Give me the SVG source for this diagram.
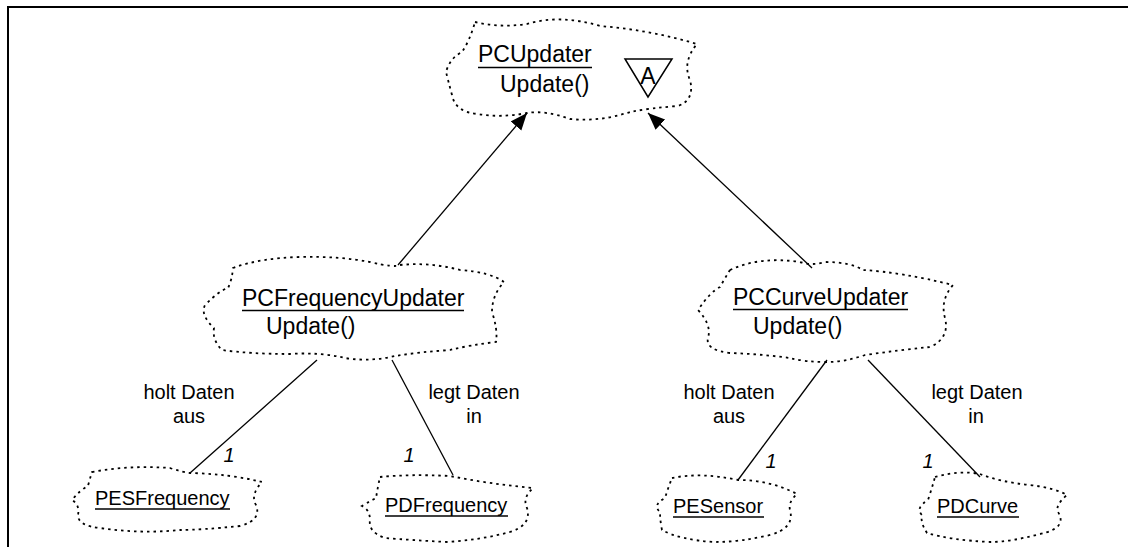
<svg xmlns="http://www.w3.org/2000/svg" width="1128" height="547" viewBox="0 0 1128 547">
<style>
.cloud{fill:none;stroke:#000;stroke-width:1.8;stroke-dasharray:2.5 4;}
.t{font-family:"Liberation Sans",Arial,sans-serif;fill:#000;}
.big{font-size:23px;}
.sm{font-size:20px;}
.ul{stroke:#000;stroke-width:1.6;}
.conn{stroke:#000;stroke-width:1.3;fill:none;}
.lbl{font-family:"Liberation Sans",Arial,sans-serif;font-size:20px;text-anchor:middle;fill:#000;}
.mult{font-family:"Liberation Sans",Arial,sans-serif;font-size:20px;font-style:italic;text-anchor:middle;fill:#000;}
</style>
<defs>
<marker id="arr" markerUnits="userSpaceOnUse" markerWidth="18" markerHeight="16" refX="17" refY="7" orient="auto">
<path d="M0,0 L17,7 L0,14 Z" fill="#000"/>
</marker>
</defs>
<rect width="1128" height="547" fill="#fff"/>
<path d="M8,547 V7 H1128" fill="none" stroke="#000" stroke-width="2"/>

<g id="connectors">
<line class="conn" x1="398" y1="265" x2="527" y2="113" marker-end="url(#arr)"/>
<line class="conn" x1="812" y1="268" x2="648" y2="113" marker-end="url(#arr)"/>
<line class="conn" x1="317" y1="360" x2="190" y2="473"/>
<line class="conn" x1="392" y1="360" x2="453" y2="475"/>
<line class="conn" x1="827" y1="360" x2="738" y2="480"/>
<line class="conn" x1="868" y1="360" x2="980" y2="477"/>
<text class="lbl" x="189" y="399">holt Daten</text>
<text class="lbl" x="189" y="423">aus</text>
<text class="lbl" x="474" y="399">legt Daten</text>
<text class="lbl" x="474" y="423">in</text>
<text class="lbl" x="729" y="399">holt Daten</text>
<text class="lbl" x="729" y="423">aus</text>
<text class="lbl" x="977" y="399">legt Daten</text>
<text class="lbl" x="976" y="423">in</text>
<text class="mult" x="229" y="462">1</text>
<text class="mult" x="409" y="462">1</text>
<text class="mult" x="771" y="468">1</text>
<text class="mult" x="928" y="468">1</text>
</g>

<g id="PCUpdater">
<path class="cloud" d="M475,22 Q500,28 527,24 Q560,14 600,26 Q650,30 697,44 Q682,62 690,80 Q695,100 678,106 Q650,108 630,112 Q600,122 570,119 Q545,110 527,113 Q500,118 478,114 Q455,112 452,95 Q448,80 446,72 Q450,58 462,52 Q470,40 475,22 Z"/>
<text class="t big" x="478" y="62">PCUpdater</text>
<line class="ul" x1="478" y1="67.5" x2="592" y2="67.5"/>
<text class="t big" x="500" y="92">Update()</text>
<path d="M625,59 L672,59 L648,97 Z" fill="none" stroke="#000" stroke-width="1.5"/>
<text class="t big" x="648" y="84" text-anchor="middle">A</text>
</g>

<g id="PCFrequencyUpdater">
<path class="cloud" d="M233,268 Q260,258 300,257 Q340,256 370,262 Q395,268 400,265 Q430,262 460,270 Q490,272 504,282 Q492,295 492,312 Q498,330 496,342 Q470,345 450,350 Q420,352 395,356 Q370,362 345,358 Q320,352 290,354 Q250,354 222,350 Q212,340 214,328 Q200,315 205,305 Q220,290 228,288 Q232,280 233,268 Z"/>
<text class="t big" x="242" y="306">PCFrequencyUpdater</text>
<line class="ul" x1="242" y1="310.5" x2="464" y2="310.5"/>
<text class="t big" x="266" y="334">Update()</text>
</g>

<g id="PCCurveUpdater">
<path class="cloud" d="M730,270 Q760,256 800,262 Q812,266 825,262 Q850,262 863,270 Q900,272 953,285 Q940,300 945,318 Q950,338 930,347 Q900,350 865,355 Q845,362 827,362 Q805,362 790,358 Q760,354 730,353 Q705,350 708,338 Q712,325 698,310 Q710,292 720,287 Q725,278 730,270 Z"/>
<text class="t big" x="733" y="305">PCCurveUpdater</text>
<line class="ul" x1="733" y1="309.5" x2="908" y2="309.5"/>
<text class="t big" x="753" y="334">Update()</text>
</g>

<g id="PESFrequency">
<path class="cloud" d="M92,472 Q130,465 170,468 Q182,472 190,473 Q230,474 262,482 Q250,495 256,505 Q262,520 240,526 Q200,530 180,530 Q140,534 100,528 Q78,526 78,515 Q80,505 72,500 Q80,490 88,486 Q90,478 92,472 Z"/>
<text class="t sm" x="95" y="505">PESFrequency</text>
<line class="ul" x1="95" y1="509" x2="230" y2="509"/>
</g>

<g id="PDFrequency">
<path class="cloud" d="M380,477 Q410,474 450,476 Q490,484 533,488 Q522,498 527,508 Q532,525 510,532 Q480,540 447,542 Q410,540 385,538 Q368,532 370,520 Q370,510 362,506 Q372,500 376,498 Q378,486 380,477 Z"/>
<text class="t sm" x="385" y="512">PDFrequency</text>
<line class="ul" x1="385" y1="516" x2="508" y2="516"/>
</g>

<g id="PESensor">
<path class="cloud" d="M672,478 Q700,472 738,480 Q770,480 797,494 Q788,502 790,510 Q795,528 770,535 Q740,542 715,542 Q680,540 662,530 Q660,520 660,512 Q652,505 665,498 Q668,488 672,478 Z"/>
<text class="t sm" x="673" y="513">PESensor</text>
<line class="ul" x1="673" y1="517" x2="764" y2="517"/>
</g>

<g id="PDCurve">
<path class="cloud" d="M935,477 Q960,470 980,474 Q1000,482 1030,485 Q1055,488 1067,495 Q1055,505 1058,512 Q1068,528 1040,534 Q1010,542 990,542 Q950,540 927,533 Q920,522 922,515 Q915,508 928,500 Q932,488 935,477 Z"/>
<text class="t sm" x="937" y="513">PDCurve</text>
<line class="ul" x1="937" y1="517" x2="1019" y2="517"/>
</g>
</svg>
